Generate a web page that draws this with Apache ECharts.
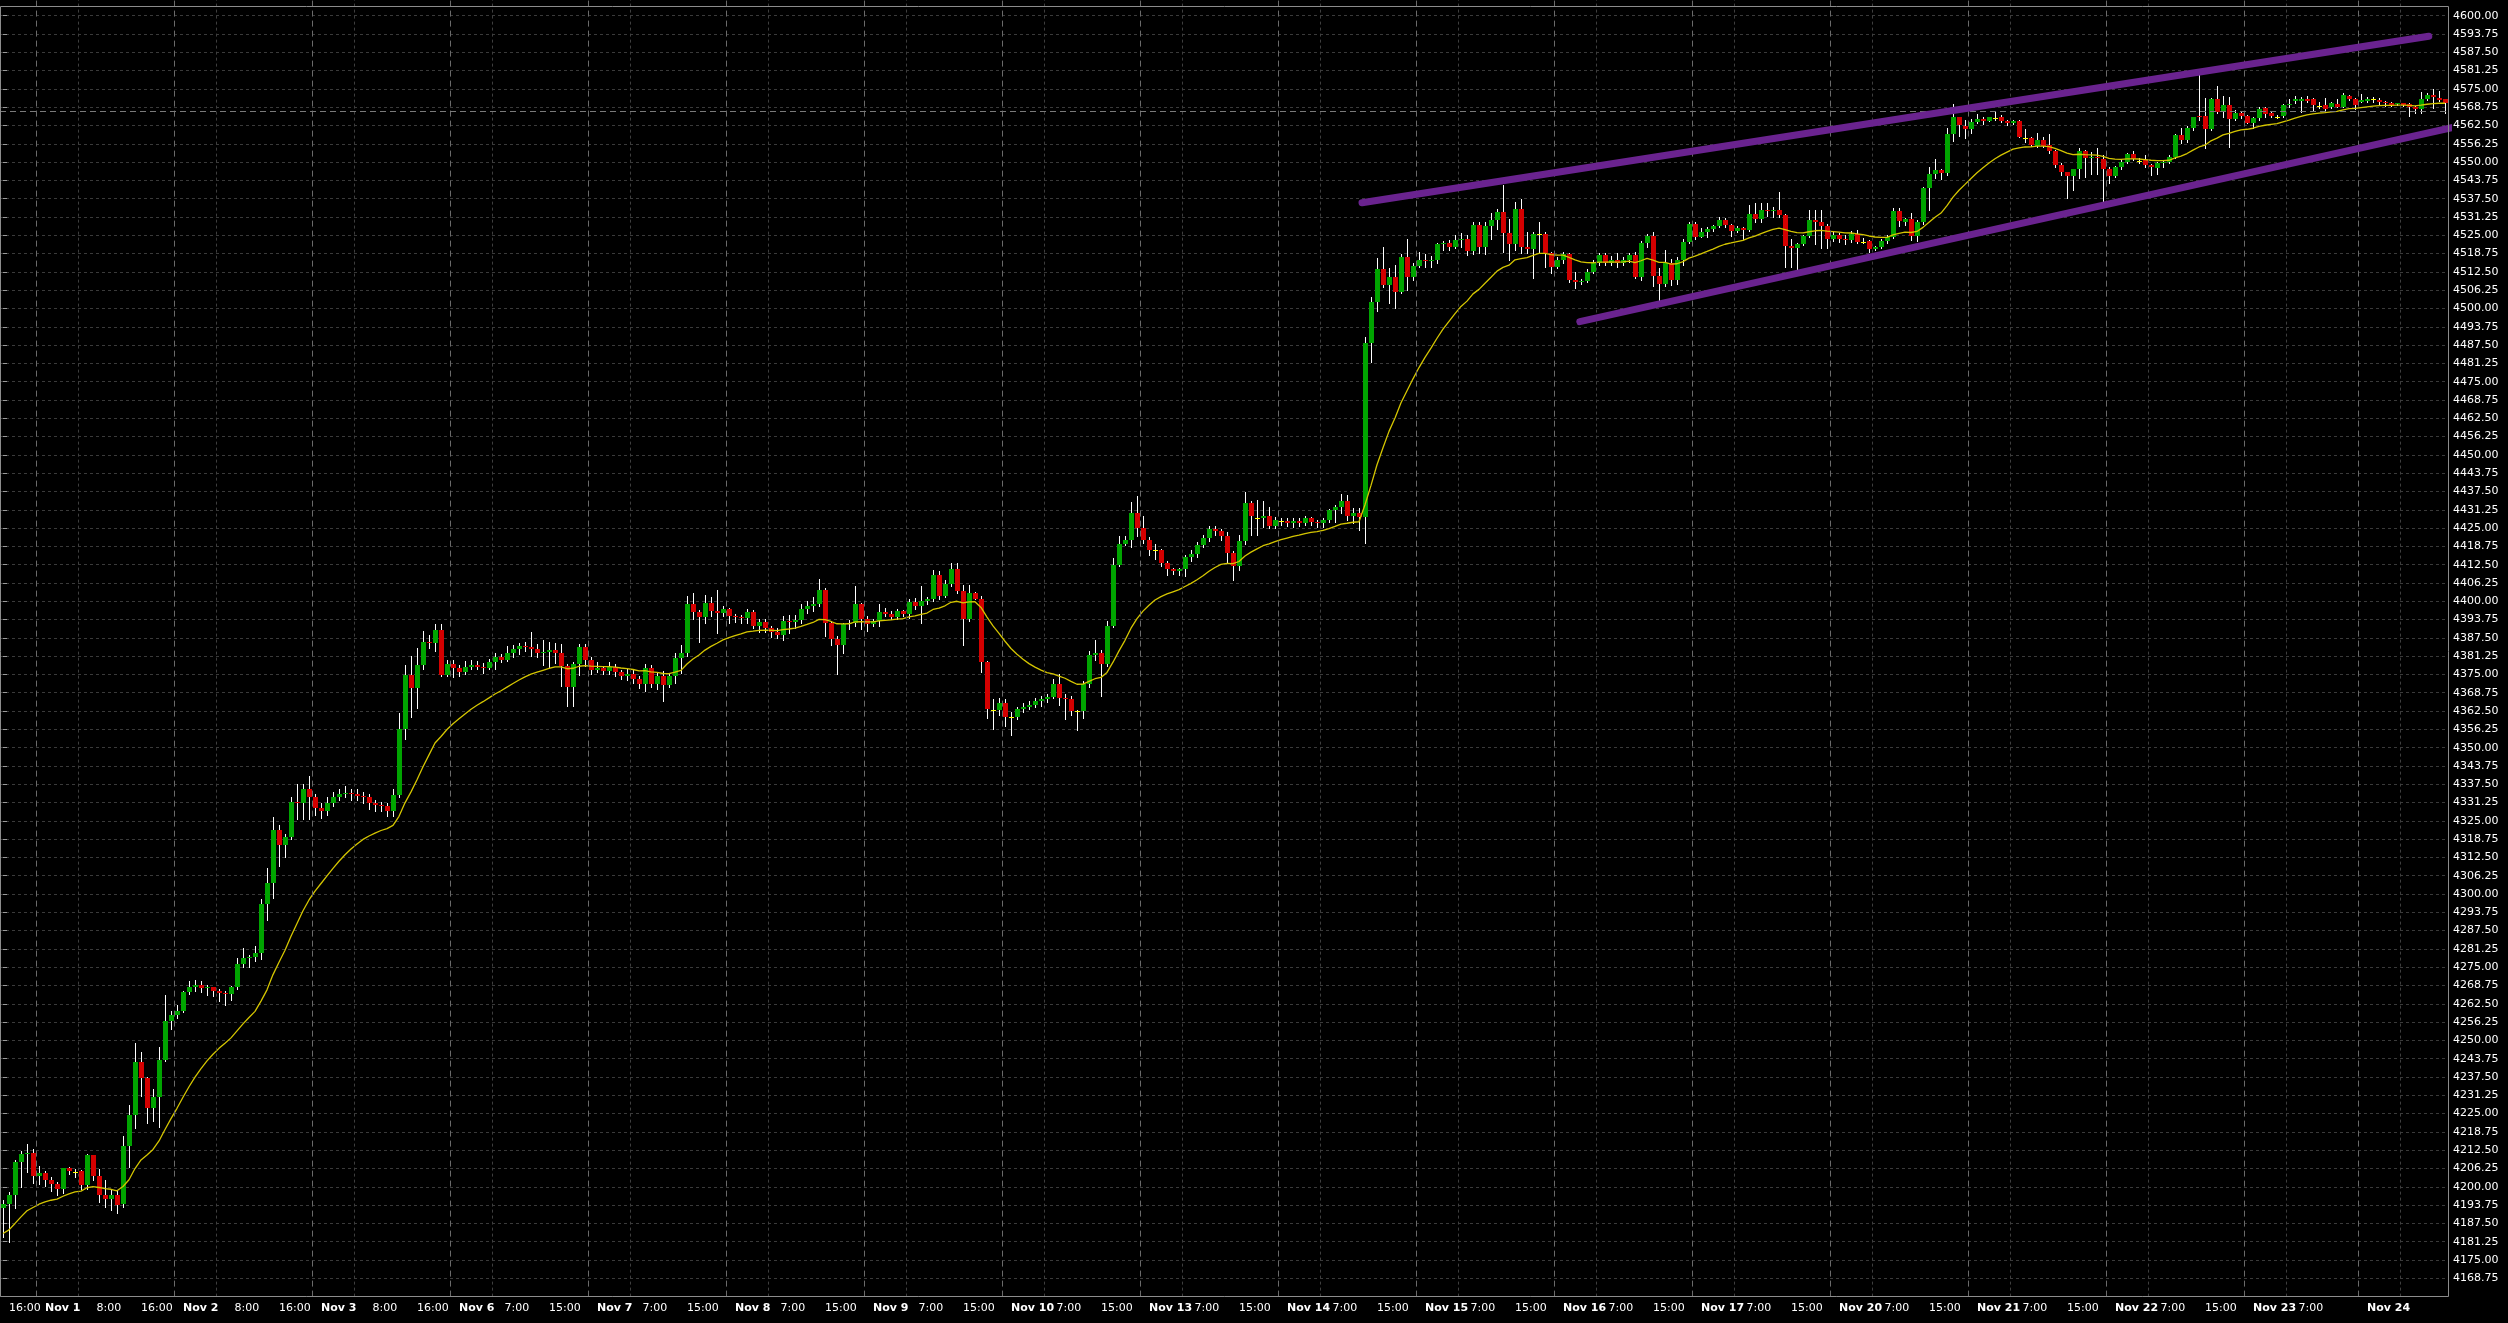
<!DOCTYPE html>
<html><head><meta charset="utf-8">
<script src="https://cdn.jsdelivr.net/npm/echarts@6/dist/echarts.min.js"></script>
<style>html,body{margin:0;padding:0;background:#000;}#c{width:2508px;height:1323px;}</style>
</head><body><div id="c"></div>
<script>
// ---- time axis (one entry per trading day) ----
const dayNames = ['Oct 31','Nov 1','Nov 2','Nov 3','Nov 6','Nov 7','Nov 8','Nov 9','Nov 10','Nov 13','Nov 14','Nov 15','Nov 16','Nov 17','Nov 20','Nov 21','Nov 22','Nov 23','Nov 24'];
const dayFirstHour = [16,0,0,0,0,0,0,0,0,0,0,0,0,0,0,0,0,0,0];
const dayLabelHours = [[16],[8,16],[8,16],[8,16],[7,15],[7,15],[7,15],[7,15],[7,15],[7,15],[7,15],[7,15],[7,15],[7,15],[7,15],[7,15],[7,15],[7],[]];
const gridHourOffsets = [7];

// ---- hourly candles [open, close, low, high] ----
const oct31 = [[4192.8,4194.0,4183.0,4195.4],[4194.0,4197.1,4181.1,4198.2],[4197.1,4208.4,4192.9,4209.0],[4208.4,4211.1,4199.9,4212.1],[4211.1,4211.6,4205.1,4214.7],[4211.6,4203.7,4201.3,4212.8]];
const nov1 = [[4203.7,4204.6,4201.1,4207.0],[4204.6,4202.2,4200.2,4205.3],[4202.2,4200.9,4198.6,4203.3],[4200.9,4199.1,4197.1,4201.5],[4199.1,4206.3,4197.9,4206.4],[4206.3,4205.4,4204.5,4206.9],[4205.0,4205.0,4203.4,4206.2],[4205.3,4200.5,4199.4,4205.9],[4200.5,4210.8,4199.4,4211.3],[4210.8,4203.6,4202.2,4211.0],[4203.6,4197.1,4194.8,4206.2],[4197.1,4195.7,4193.1,4202.4],[4195.7,4197.1,4192.0,4199.0],[4197.1,4193.7,4191.0,4198.8],[4194.0,4213.8,4193.1,4217.2],[4213.8,4224.6,4206.8,4227.8],[4224.6,4242.5,4220.1,4249.0],[4242.5,4237.0,4230.9,4246.0],[4237.0,4227.0,4221.8,4237.4],[4227.0,4230.6,4222.5,4233.5],[4230.6,4243.4,4220.5,4247.8],[4243.4,4256.8,4243.0,4265.5],[4256.8,4258.6,4254.0,4260.2]];
const nov2 = [[4258.6,4260.2,4257.5,4262.0],[4260.2,4266.5,4259.7,4266.8],[4266.5,4268.3,4265.8,4270.3],[4268.3,4268.8,4267.0,4270.6],[4268.8,4267.9,4266.6,4270.3],[4267.9,4268.2,4265.6,4268.8],[4268.2,4266.8,4265.1,4268.4],[4266.8,4266.3,4263.5,4267.7],[4266.3,4265.7,4262.1,4266.9],[4265.7,4268.2,4263.9,4268.5],[4268.2,4276.0,4267.5,4278.0],[4276.0,4278.2,4275.0,4281.5],[4278.2,4278.5,4275.0,4279.3],[4278.5,4280.0,4277.2,4282.2],[4280.0,4296.7,4277.7,4298.2],[4296.7,4303.9,4291.0,4308.8],[4303.9,4321.8,4298.6,4326.3],[4321.8,4316.6,4309.6,4323.7],[4316.6,4319.6,4312.6,4320.5],[4319.6,4331.3,4318.9,4333.1],[4331.3,4331.0,4325.6,4337.5],[4331.0,4336.0,4325.6,4337.5],[4336.0,4333.0,4325.6,4340.3]];
const nov3 = [[4333.0,4329.4,4327.0,4334.0],[4329.4,4328.5,4326.0,4331.0],[4328.5,4331.1,4327.0,4333.0],[4331.1,4333.2,4330.0,4335.0],[4333.2,4334.0,4332.0,4336.0],[4334.0,4334.5,4333.0,4337.0],[4334.5,4334.2,4332.0,4336.0],[4334.2,4333.6,4332.0,4336.0],[4333.6,4333.2,4331.0,4335.0],[4333.2,4331.0,4329.0,4334.0],[4331.0,4330.3,4328.5,4332.0],[4330.3,4330.0,4328.5,4331.5],[4330.0,4328.5,4326.5,4331.0],[4328.5,4333.7,4326.5,4336.0],[4333.7,4356.2,4333.0,4361.8],[4356.2,4374.9,4352.8,4378.2],[4374.9,4370.4,4360.3,4381.2],[4370.4,4378.2,4363.7,4384.2],[4378.2,4386.1,4376.7,4389.9],[4386.1,4385.7,4383.9,4388.4],[4385.7,4390.2,4383.0,4392.1],[4390.2,4374.9,4374.6,4392.1],[4374.9,4378.7,4374.5,4379.8]];
const nov6 = [[4378.7,4377.1,4374.2,4379.8],[4377.1,4375.7,4374.6,4378.2],[4375.7,4377.5,4375.0,4379.5],[4377.5,4378.2,4376.7,4379.8],[4378.2,4377.6,4376.7,4379.5],[4377.6,4377.2,4375.5,4378.8],[4377.2,4379.4,4376.8,4380.2],[4379.4,4380.9,4376.8,4382.4],[4380.9,4380.1,4379.3,4382.1],[4380.1,4382.4,4379.5,4384.6],[4382.4,4383.6,4381.0,4385.1],[4383.6,4384.6,4382.1,4385.8],[4384.6,4384.3,4383.0,4386.0],[4384.3,4383.6,4381.4,4389.5],[4383.6,4382.2,4381.0,4385.4],[4382.2,4382.8,4378.1,4386.9],[4382.8,4383.2,4377.4,4386.2],[4383.2,4382.3,4378.8,4385.9],[4382.3,4377.9,4371.2,4385.4],[4377.9,4370.7,4364.1,4378.6],[4370.7,4378.7,4364.1,4379.4],[4378.7,4384.3,4374.8,4385.4],[4384.3,4380.1,4377.9,4385.4]];
const nov7 = [[4380.1,4376.4,4375.0,4381.1],[4376.4,4377.1,4375.7,4379.2],[4377.1,4376.2,4375.0,4378.0],[4376.2,4377.7,4375.0,4379.2],[4377.7,4375.9,4374.5,4378.4],[4375.9,4374.6,4373.5,4376.5],[4374.6,4375.3,4373.0,4377.0],[4375.3,4373.5,4372.2,4376.6],[4373.5,4371.6,4370.4,4374.5],[4371.6,4377.3,4369.3,4378.4],[4377.3,4371.6,4370.8,4378.1],[4371.6,4374.6,4369.9,4375.5],[4374.6,4371.3,4366.0,4376.1],[4371.3,4374.6,4370.7,4375.3],[4374.6,4380.7,4372.1,4382.4],[4380.7,4382.4,4375.6,4385.2],[4382.4,4399.2,4381.3,4401.9],[4399.2,4396.2,4393.8,4402.9],[4396.2,4394.7,4386.0,4397.1],[4394.7,4399.4,4392.7,4402.3],[4399.4,4396.6,4394.9,4401.6],[4396.6,4396.0,4389.2,4403.8],[4396.0,4397.4,4395.1,4398.3]];
const nov8 = [[4397.4,4395.1,4392.5,4397.7],[4395.1,4394.7,4393.0,4395.6],[4394.7,4394.4,4392.5,4395.3],[4394.4,4396.5,4392.5,4397.2],[4396.5,4391.7,4390.9,4396.9],[4391.7,4392.9,4389.6,4393.8],[4392.9,4390.9,4389.6,4393.8],[4390.9,4389.5,4387.9,4391.7],[4389.5,4388.6,4387.4,4390.7],[4388.6,4393.4,4386.7,4394.9],[4393.4,4392.8,4389.3,4395.2],[4392.8,4393.6,4391.0,4395.2],[4393.6,4397.2,4392.7,4398.9],[4397.2,4398.3,4396.1,4400.0],[4398.3,4399.2,4396.6,4401.5],[4399.2,4404.0,4398.3,4407.7],[4404.0,4392.6,4388.0,4404.5],[4392.6,4387.2,4384.9,4393.2],[4387.2,4384.9,4375.0,4388.1],[4384.9,4392.1,4382.2,4392.6],[4392.1,4392.5,4390.5,4393.5],[4392.5,4398.9,4391.4,4405.1],[4398.9,4393.8,4390.6,4399.4]];
const nov9 = [[4393.8,4392.1,4389.9,4394.9],[4392.1,4393.2,4391.5,4393.8],[4393.2,4396.5,4391.4,4398.9],[4396.5,4395.5,4394.9,4397.7],[4395.5,4394.6,4393.8,4396.6],[4394.6,4396.6,4393.8,4397.4],[4396.6,4395.8,4394.9,4396.9],[4395.8,4399.9,4394.3,4400.6],[4399.9,4398.3,4397.2,4401.2],[4398.3,4400.2,4392.6,4405.1],[4400.2,4400.8,4399.2,4401.5],[4400.8,4408.8,4400.0,4410.8],[4408.8,4401.9,4400.6,4410.2],[4401.9,4406.0,4401.4,4407.4],[4406.0,4411.0,4405.1,4412.9],[4411.0,4403.4,4402.8,4413.1],[4403.4,4394.1,4384.9,4405.6],[4394.1,4402.8,4393.2,4405.6],[4402.8,4400.8,4400.6,4403.0],[4400.8,4379.2,4375.8,4401.7],[4379.2,4363.1,4360.2,4379.6],[4363.0,4363.0,4356.5,4366.5],[4363.0,4365.1,4361.3,4367.0]];
const nov10 = [[4365.1,4360.6,4357.4,4366.5],[4360.4,4360.4,4354.2,4362.3],[4360.4,4363.1,4359.8,4363.9],[4363.1,4364.0,4362.2,4365.4],[4364.0,4364.5,4363.3,4365.8],[4364.5,4366.1,4363.8,4367.0],[4366.1,4366.7,4364.1,4367.6],[4366.7,4367.4,4365.7,4368.3],[4367.4,4371.6,4366.8,4373.3],[4371.6,4367.0,4364.5,4375.1],[4367.0,4366.7,4359.7,4368.3],[4366.7,4362.5,4361.0,4367.6],[4362.4,4362.4,4356.0,4363.0],[4362.4,4371.9,4360.0,4372.8],[4371.9,4381.6,4370.6,4382.9],[4381.6,4382.2,4379.8,4386.6],[4382.2,4378.4,4367.6,4383.5],[4378.4,4391.7,4377.8,4393.2],[4391.7,4412.5,4391.1,4414.8],[4412.5,4419.6,4411.9,4422.2],[4419.6,4421.0,4419.2,4422.2],[4421.0,4430.1,4418.5,4433.8],[4430.1,4425.0,4422.2,4435.8]];
const nov13 = [[4425.0,4421.0,4419.9,4429.1],[4421.0,4417.6,4415.9,4421.8],[4417.4,4417.4,4414.5,4419.5],[4417.4,4412.9,4412.0,4418.0],[4412.9,4411.0,4408.8,4413.7],[4411.0,4410.3,4409.3,4411.5],[4410.3,4410.9,4409.0,4411.3],[4410.9,4415.1,4408.5,4415.9],[4415.1,4416.3,4413.7,4417.6],[4416.3,4419.3,4415.2,4420.4],[4419.3,4421.6,4418.5,4422.7],[4421.6,4424.7,4420.5,4425.6],[4424.7,4423.9,4422.7,4425.6],[4423.9,4422.4,4421.0,4424.7],[4422.4,4416.5,4413.2,4423.5],[4416.5,4412.0,4407.2,4417.0],[4412.0,4420.5,4410.8,4422.7],[4420.5,4433.5,4419.4,4437.2],[4433.5,4429.0,4422.7,4434.1],[4428.6,4428.6,4422.7,4434.7],[4428.6,4429.2,4425.3,4434.4],[4429.2,4425.6,4425.0,4432.2],[4425.6,4427.6,4425.0,4428.9]];
const nov14 = [[4427.3,4427.3,4426.0,4428.5],[4427.3,4426.8,4425.6,4428.3],[4426.8,4427.4,4425.5,4428.3],[4427.4,4426.8,4425.6,4428.3],[4426.8,4428.4,4426.2,4429.0],[4428.4,4427.1,4426.0,4428.8],[4427.1,4426.6,4425.5,4427.9],[4426.6,4427.9,4425.3,4428.5],[4427.9,4431.0,4427.0,4431.5],[4431.0,4432.3,4427.2,4432.9],[4432.3,4434.2,4430.0,4436.8],[4434.2,4429.2,4427.7,4436.2],[4429.2,4430.2,4426.6,4431.7],[4430.2,4428.8,4424.5,4431.7],[4428.8,4488.1,4420.0,4490.4],[4488.1,4502.3,4481.8,4504.0],[4502.3,4513.5,4499.2,4517.1],[4513.5,4508.0,4507.4,4521.1],[4508.0,4510.9,4502.0,4513.7],[4510.9,4505.7,4500.3,4514.8],[4505.7,4517.7,4505.2,4518.6],[4517.7,4510.9,4506.3,4523.9],[4510.9,4514.5,4509.7,4515.4]];
const nov15 = [[4514.5,4516.4,4514.3,4519.4],[4516.4,4516.1,4514.3,4518.6],[4516.1,4516.5,4514.3,4517.9],[4516.5,4522.0,4515.4,4522.2],[4522.0,4522.4,4520.0,4523.0],[4522.4,4521.1,4520.0,4523.4],[4521.1,4523.4,4520.5,4525.1],[4523.4,4523.9,4521.1,4525.9],[4523.9,4519.7,4518.3,4525.1],[4519.7,4528.5,4518.6,4529.6],[4528.5,4521.1,4518.8,4529.6],[4521.1,4528.3,4518.6,4529.4],[4528.3,4530.2,4523.6,4532.5],[4530.2,4532.9,4527.0,4534.0],[4532.9,4525.9,4519.4,4542.2],[4525.9,4522.0,4516.5,4530.4],[4522.0,4534.0,4520.0,4536.5],[4534.0,4521.1,4519.1,4537.3],[4521.1,4520.3,4518.8,4526.2],[4520.3,4525.4,4510.5,4526.2],[4525.3,4525.3,4519.0,4529.6],[4525.3,4518.8,4514.3,4526.2],[4518.8,4514.3,4512.0,4519.4]];
const nov16 = [[4514.3,4516.5,4513.7,4517.7],[4516.5,4518.6,4515.4,4519.4],[4518.6,4509.7,4509.1,4518.8],[4509.7,4509.1,4506.9,4512.6],[4509.1,4509.5,4508.5,4510.0],[4509.5,4512.6,4509.1,4513.4],[4512.6,4515.4,4512.0,4516.5],[4515.4,4518.2,4514.8,4519.0],[4518.2,4515.6,4514.8,4518.8],[4515.6,4516.7,4515.0,4518.0],[4516.7,4515.4,4514.0,4518.8],[4515.4,4516.6,4515.0,4517.5],[4516.6,4518.2,4516.0,4519.0],[4518.2,4510.9,4510.3,4519.4],[4510.9,4522.5,4509.7,4523.1],[4522.5,4524.7,4521.1,4525.6],[4524.7,4511.2,4507.7,4526.2],[4511.2,4508.3,4502.9,4513.7],[4508.3,4515.4,4507.7,4519.9],[4515.4,4509.7,4508.0,4517.0],[4509.7,4516.5,4508.5,4517.5],[4516.5,4522.8,4515.0,4523.9],[4522.8,4528.8,4522.2,4529.6]];
const nov17 = [[4528.8,4524.3,4523.9,4529.6],[4524.3,4526.2,4524.3,4527.4],[4526.2,4527.1,4524.5,4527.7],[4527.1,4528.1,4526.6,4528.5],[4528.1,4530.2,4527.9,4531.3],[4530.2,4528.5,4527.7,4530.8],[4528.5,4526.6,4524.7,4528.8],[4526.6,4527.4,4526.0,4528.0],[4527.4,4526.8,4523.6,4527.7],[4526.8,4532.1,4526.5,4535.3],[4532.1,4530.5,4529.6,4535.9],[4530.5,4533.8,4529.6,4535.9],[4533.8,4533.4,4531.6,4536.1],[4533.4,4533.8,4531.3,4534.5],[4533.8,4531.9,4531.3,4539.7],[4531.9,4521.4,4514.3,4532.3],[4521.4,4520.8,4514.3,4523.9],[4520.8,4522.0,4513.4,4522.5],[4522.0,4524.7,4521.7,4525.1],[4524.7,4530.2,4524.5,4533.8],[4530.2,4529.6,4522.0,4533.8],[4529.6,4528.1,4520.5,4533.8],[4528.1,4523.7,4520.5,4529.0]];
const nov20 = [[4523.7,4525.1,4523.0,4526.0],[4525.1,4523.9,4522.6,4525.8],[4523.9,4523.4,4522.0,4525.1],[4523.4,4525.6,4522.8,4526.5],[4525.6,4522.8,4522.2,4526.8],[4522.8,4522.8,4522.2,4524.0],[4523.1,4520.2,4519.4,4523.4],[4520.2,4521.1,4519.9,4521.3],[4521.1,4523.1,4520.8,4523.6],[4523.1,4524.5,4522.5,4525.0],[4524.5,4533.4,4524.0,4534.2],[4533.4,4530.0,4528.0,4534.2],[4529.6,4530.4,4528.5,4530.8],[4530.4,4524.7,4523.4,4532.5],[4524.7,4529.6,4523.1,4530.2],[4529.6,4541.0,4529.0,4541.6],[4541.0,4545.9,4533.6,4548.4],[4545.9,4547.3,4544.4,4550.9],[4547.3,4546.4,4544.1,4547.5],[4546.4,4559.6,4545.6,4561.5],[4559.6,4565.3,4557.3,4570.0],[4565.3,4562.7,4558.9,4565.5],[4562.3,4561.4,4558.1,4564.4]];
const nov21 = [[4561.4,4563.8,4560.0,4564.6],[4563.8,4564.7,4563.2,4566.3],[4564.7,4564.1,4563.0,4565.5],[4564.1,4565.3,4564.0,4565.5],[4565.0,4565.0,4564.4,4567.1],[4565.3,4564.1,4563.8,4566.1],[4564.0,4563.2,4562.7,4564.4],[4563.2,4564.0,4563.0,4564.4],[4564.0,4558.7,4558.4,4564.4],[4558.3,4558.3,4557.0,4561.3],[4558.1,4555.8,4555.5,4558.7],[4555.5,4557.5,4555.3,4559.8],[4557.5,4555.5,4555.3,4558.4],[4555.7,4553.9,4553.0,4559.5],[4553.8,4549.0,4548.4,4554.1],[4549.0,4546.6,4545.6,4549.6],[4546.6,4545.2,4537.6,4546.7],[4545.2,4547.5,4540.4,4547.8],[4547.5,4553.8,4544.4,4554.7],[4553.8,4551.3,4545.0,4554.1],[4551.6,4551.8,4546.1,4553.5],[4551.8,4551.3,4546.1,4554.9],[4550.9,4547.8,4536.5,4552.4]];
const nov22 = [[4547.8,4545.2,4542.7,4548.4],[4545.2,4548.4,4545.0,4548.6],[4548.4,4550.2,4547.8,4550.9],[4550.2,4552.8,4549.8,4553.2],[4552.8,4551.2,4550.7,4553.8],[4550.5,4550.5,4549.6,4551.3],[4550.7,4549.0,4548.4,4552.4],[4549.0,4548.4,4545.6,4549.3],[4548.1,4549.6,4545.9,4550.1],[4549.6,4550.1,4548.4,4550.7],[4550.1,4551.8,4549.8,4552.4],[4551.8,4559.2,4551.3,4559.6],[4559.2,4557.5,4556.4,4561.5],[4557.5,4561.5,4557.0,4562.3],[4561.5,4565.3,4561.0,4565.5],[4565.7,4565.3,4564.4,4579.7],[4565.7,4561.4,4554.7,4571.8],[4561.4,4571.5,4560.9,4571.8],[4571.5,4567.2,4566.6,4576.0],[4567.2,4569.5,4565.5,4572.6],[4569.5,4564.8,4555.3,4572.3],[4564.8,4566.6,4564.4,4567.8],[4566.6,4565.9,4564.9,4567.2]];
const nov23 = [[4565.9,4563.5,4563.2,4566.1],[4563.5,4564.9,4561.5,4565.5],[4564.9,4568.0,4564.4,4568.7],[4568.4,4566.4,4565.5,4568.7],[4566.6,4565.9,4565.5,4567.2],[4565.5,4565.5,4564.9,4566.1],[4565.7,4569.5,4565.5,4569.8],[4569.4,4569.8,4568.9,4571.4],[4570.9,4571.4,4570.1,4572.6],[4571.0,4571.4,4567.2,4572.3],[4571.4,4571.0,4570.6,4572.6],[4571.4,4569.5,4567.6,4571.8],[4569.3,4569.3,4568.4,4570.4],[4569.5,4568.2,4567.8,4571.8],[4568.7,4570.1,4568.4,4570.6],[4569.8,4568.9,4568.7,4571.4],[4568.9,4572.9,4568.7,4573.5],[4572.6,4571.7,4571.2,4572.9],[4571.4,4569.5,4568.0,4571.8]];
const nov24 = [[4570.6,4571.2,4570.6,4573.2],[4571.0,4571.4,4570.6,4572.3],[4571.5,4571.5,4570.6,4572.3],[4571.2,4570.6,4569.8,4571.8],[4570.4,4570.1,4569.1,4570.9],[4570.1,4569.5,4569.1,4570.6],[4569.8,4570.1,4569.5,4570.3],[4570.1,4569.4,4569.1,4570.3],[4569.8,4568.7,4565.7,4570.1],[4568.7,4568.0,4566.9,4569.1],[4568.0,4571.4,4566.6,4574.0],[4571.4,4572.8,4571.2,4573.5],[4572.8,4572.1,4568.4,4574.8],[4571.8,4571.2,4570.8,4574.4],[4571.4,4570.1,4566.6,4571.6]];
const dayCandles = [oct31,nov1,nov2,nov3,nov6,nov7,nov8,nov9,nov10,nov13,nov14,nov15,nov16,nov17,nov20,nov21,nov22,nov23,nov24];

// ---- indicator / drawings ----
const maPeriod = 20;          // exponential moving average of closes
const maSeed = 4183.0;        // MA value at the left edge
const upperTrend = [[226.5,4536.1],[404.3,4593.0]];
const lowerTrend = [[262.8,4495.5],[410.0,4562.6]];
const priceLine = 4567.5;

// ---- y axis ticks ----
const yMin = 4162.5, yMax = 4606.25, yStep = 6.25, yLabelLo = 4168.75, yLabelHi = 4600;

// ---- build ----
const candles = [], cats = [], labelText = [], dayStart = [];
dayCandles.forEach((arr, d) => {
  dayStart.push(candles.length);
  arr.forEach((q, k) => {
    const i = candles.length, hour = dayFirstHour[d] + k;
    candles.push([i, q[0], q[1], q[2], q[3]]);
    cats.push(dayNames[d] + ' ' + hour + ':00');
    let t = '';
    if (k === 0 && dayFirstHour[d] === 0) t = '{b|' + dayNames[d] + '}';
    else if (dayLabelHours[d].indexOf(hour) >= 0) t = '{t|' + (hour < 10 ? ' ' : '') + hour + ':00}';
    labelText.push(t);
  });
});
const N = candles.length;
const alpha = 2 / (maPeriod + 1);
const ema = []; let prev = maSeed;
candles.forEach(c => { prev = prev + alpha * (c[2] - prev); ema.push(+prev.toFixed(2)); });

const crisp = 1 / 12;
const vLines = [];
dayStart.forEach((s, d) => {
  if (d > 0) vLines.push({xAxis: s - 0.5 + crisp, lineStyle: {color: '#6a6a6a', type: [6, 4], width: 1}});
  if (dayFirstHour[d] === 0) gridHourOffsets.forEach(off => {
    if (off < dayCandles[d].length) vLines.push({xAxis: s + off - 0.5 + crisp, lineStyle: {color: '#3e3e3e', type: [3, 3], width: 1}});
  });
});
vLines.push({yAxis: priceLine, lineStyle: {color: '#7a7a7a', type: [6, 4], width: 1}});

function renderCandle(params, api) {
  const i = api.value(0), o = api.value(1), c = api.value(2), l = api.value(3), h = api.value(4);
  const po = api.coord([i, o]);
  const cx = Math.round(po[0]);
  const yo = po[1], yc = api.coord([i, c])[1];
  const yl = api.coord([i, Math.min(l, o, c)])[1], yh = api.coord([i, Math.max(h, o, c)])[1];
  const children = [{type: 'line', shape: {x1: cx + 0.5, y1: Math.round(yh), x2: cx + 0.5, y2: Math.round(yl) + 1}, style: {stroke: '#ffffff', lineWidth: 1}}];
  if (o === c) {
    children.push({type: 'rect', shape: {x: cx - 2, y: Math.round(yo), width: 5, height: 1}, style: {fill: '#ffff00'}});
  } else {
    const t = Math.round(Math.min(yo, yc)), b = Math.round(Math.max(yo, yc));
    children.push({type: 'rect', shape: {x: cx - 2, y: t, width: 5, height: Math.max(1, b - t)}, style: {fill: c > o ? '#00a400' : '#d40000'}});
  }
  return {type: 'group', children};
}

const chart = echarts.init(document.getElementById('c'), null, {renderer: 'canvas'});
const txt = {color: '#ffffff', fontFamily: 'DejaVu Sans', fontSize: 11};
chart.setOption({
  backgroundColor: '#000000',
  animation: false,
  grid: {left: 0, right: 60, top: -2.6, bottom: 26.4, containLabel: false, outerBoundsMode: 'none'},
  xAxis: [
    {type: 'category', data: cats, boundaryGap: true,
     axisLine: {show: false}, axisTick: {show: false}, splitLine: {show: false},
     axisLabel: {interval: (i) => labelText[i] !== '', formatter: (v, i) => labelText[i], align: 'left',
       padding: [0, 0, 0, 6], margin: 6, hideOverlap: false,
       rich: {b: Object.assign({fontWeight: 'bold'}, txt), t: Object.assign({fontWeight: 'normal'}, txt)}}},
    {type: 'value', min: -0.5, max: N - 0.5, show: false}
  ],
  yAxis: {type: 'value', position: 'right', min: yMin, max: yMax, interval: yStep, scale: true,
    axisLine: {show: false},
    axisTick: {show: true, length: 4, lineStyle: {color: '#9a9a9a'}},
    axisLabel: Object.assign({margin: 5, formatter: v => (v < yLabelLo - 0.01 || v > yLabelHi + 0.01) ? '' : v.toFixed(2)}, txt),
    splitLine: {show: true, lineStyle: {color: '#3a3a3a', type: [3, 3], width: 1}}},
  graphic: [{type: 'rect', silent: true, z: 100, shape: {x: 0.5, y: 6.5, width: 2448, height: 1290}, style: {fill: null, stroke: '#8c8c8c', lineWidth: 1}}],
  series: [
    {type: 'line', xAxisIndex: 1, data: [], z: 1, silent: true,
     markLine: {silent: true, symbol: ['none', 'none'], label: {show: false}, animation: false, emphasis: {disabled: true}, data: vLines}},
    {type: 'custom', xAxisIndex: 0, data: candles, encode: {x: 0, y: [1, 2, 3, 4]}, renderItem: renderCandle, z: 3, silent: true},
    {type: 'line', xAxisIndex: 0, data: ema, symbol: 'none', showSymbol: false, z: 4, silent: true,
     lineStyle: {color: '#d4c500', width: 1.3}},
    {type: 'line', xAxisIndex: 1, data: upperTrend, symbol: 'none', showSymbol: false, z: 5, silent: true, clip: true,
     lineStyle: {color: '#6a238f', width: 7, cap: 'round'}},
    {type: 'line', xAxisIndex: 1, data: lowerTrend, symbol: 'none', showSymbol: false, z: 5, silent: true, clip: true,
     lineStyle: {color: '#6a238f', width: 7, cap: 'round'}}
  ]
});
</script></body></html>
